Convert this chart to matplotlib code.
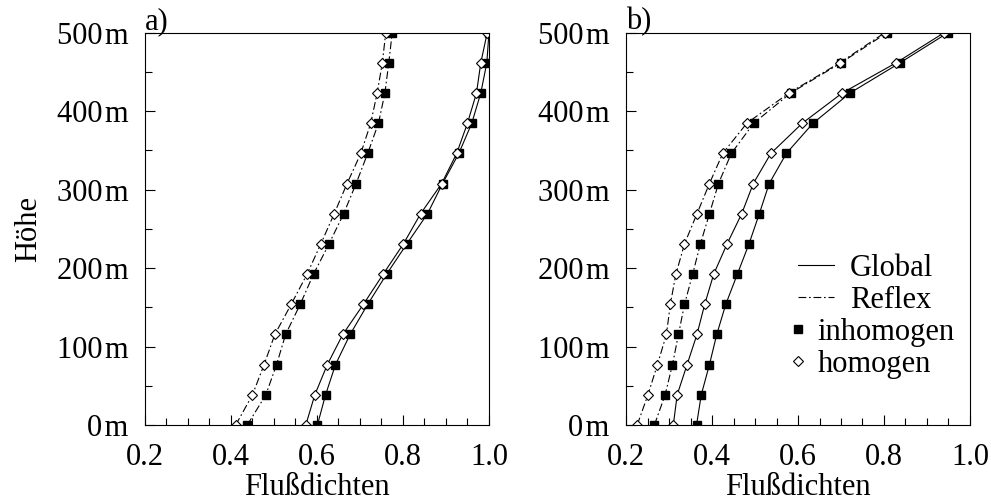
import numpy as np
from matplotlib import pyplot as plt
from matplotlib.lines import Line2D
from matplotlib.ticker import MultipleLocator

plt.rcParams['font.family'] = ['Liberation Serif', 'DejaVu Serif']
plt.rcParams['font.size'] = 22

hoehe = [0, 38.5, 76.9, 115.4, 153.8, 192.3, 230.8, 269.2, 307.7, 346.2, 384.6, 423.1, 461.5, 500]
y_ticks = [0, 100, 200, 300, 400, 500]
y_labels = ['0\u200am', '100\u200am', '200\u200am', '300\u200am', '400\u200am', '500\u200am']

# a) values, bottom to top
a_global_inh = [0.601, 0.620, 0.643, 0.677, 0.718, 0.762, 0.809, 0.857, 0.892, 0.930, 0.960, 0.981, 0.995, 1.0]
a_global_hom = [0.574, 0.595, 0.624, 0.660, 0.708, 0.754, 0.801, 0.841, 0.890, 0.925, 0.950, 0.971, 0.981, 0.996]
a_reflex_inh = [0.438, 0.481, 0.506, 0.527, 0.561, 0.592, 0.628, 0.662, 0.691, 0.718, 0.743, 0.758, 0.767, 0.775]
a_reflex_hom = [0.411, 0.450, 0.477, 0.502, 0.540, 0.577, 0.609, 0.640, 0.670, 0.702, 0.725, 0.740, 0.752, 0.760]

# b) values, bottom to top
b_global_inh = [0.364, 0.375, 0.394, 0.411, 0.432, 0.459, 0.486, 0.510, 0.533, 0.573, 0.635, 0.721, 0.837, 0.949]
b_global_hom = [0.310, 0.319, 0.342, 0.365, 0.383, 0.404, 0.435, 0.469, 0.496, 0.537, 0.610, 0.703, 0.828, 0.940]
b_reflex_inh = [0.266, 0.291, 0.308, 0.322, 0.336, 0.355, 0.373, 0.394, 0.415, 0.445, 0.497, 0.583, 0.700, 0.807]
b_reflex_hom = [0.226, 0.251, 0.273, 0.294, 0.303, 0.316, 0.336, 0.365, 0.394, 0.425, 0.481, 0.579, 0.697, 0.802]

dashdot = (0, (7, 2.5, 1.5, 2.5))
lw = 0.8
sq = dict(marker='s', ms=5.8, mfc='black', mec='black')
dia = dict(marker='D', ms=5.3, mfc='white', mec='black', mew=0.8)

fig = plt.figure(figsize=(9.91, 5.04), dpi=100)
ax1 = fig.add_axes([0.1463, 0.1567, 0.3471, 0.7785])
ax2 = fig.add_axes([0.6317, 0.1567, 0.3471, 0.7785])

panels = [
    (ax1, 'a)', a_global_inh, a_global_hom, a_reflex_inh, a_reflex_hom),
    (ax2, 'b)', b_global_inh, b_global_hom, b_reflex_inh, b_reflex_hom),
]

for ax, tag, g_inh, g_hom, r_inh, r_hom in panels:
    ax.plot(g_inh, hoehe, color='black', lw=lw, ls='-', **sq)
    ax.plot(g_hom, hoehe, color='black', lw=lw, ls='-', **dia)
    ax.plot(r_inh, hoehe, color='black', lw=lw, ls=dashdot, **sq)
    ax.plot(r_hom, hoehe, color='black', lw=lw, ls=dashdot, **dia)

    ax.set_xlim(0.2, 1.0)
    ax.set_ylim(0, 500)
    ax.set_xticks([0.2, 0.4, 0.6, 0.8, 1.0])
    ax.set_xticklabels(['0.2', '0.4', '0.6', '0.8', '1.0'])
    ax.xaxis.set_minor_locator(MultipleLocator(0.05))
    ax.set_yticks(y_ticks)
    ax.set_yticklabels(y_labels)
    ax.yaxis.set_minor_locator(MultipleLocator(50))
    ax.tick_params(which='both', direction='in', top=False, right=False, width=0.8)
    ax.tick_params(which='major', length=7.5)
    ax.tick_params(which='minor', length=5)
    ax.tick_params(axis='y', pad=12)
    ax.tick_params(axis='x', pad=13)
    for s in ax.spines.values():
        s.set_linewidth(0.8)
    ax.set_xlabel('Flußdichten', labelpad=1)
    ax.text(0.0, 0.99, tag, transform=ax.transAxes, ha='left', va='bottom', fontsize=22)

ax1.set_ylabel('Höhe', labelpad=10)

# line styles and marker types get separate legends (markers sit closer to their text)
line_handles = [
    Line2D([], [], color='black', lw=lw, ls='-'),
    Line2D([], [], color='black', lw=lw, ls=dashdot),
]
marker_handles = [
    Line2D([], [], color='black', ls='none', **sq),
    Line2D([], [], color='black', ls='none', **dia),
]
leg1 = ax2.legend(line_handles, ['Global', 'Reflex'], loc='upper left',
                  bbox_to_anchor=(0.455, 0.475), frameon=False, borderpad=0,
                  handlelength=1.2, handletextpad=0.5, labelspacing=0.1, fontsize=22)
ax2.add_artist(leg1)
ax2.legend(marker_handles, ['inhomogen', 'homogen'], loc='upper left',
           bbox_to_anchor=(0.4295, 0.312), frameon=False, borderpad=0,
           handlelength=0.6, handletextpad=0.33, labelspacing=0.1, fontsize=22)

fig.savefig('out.png', dpi=100)
